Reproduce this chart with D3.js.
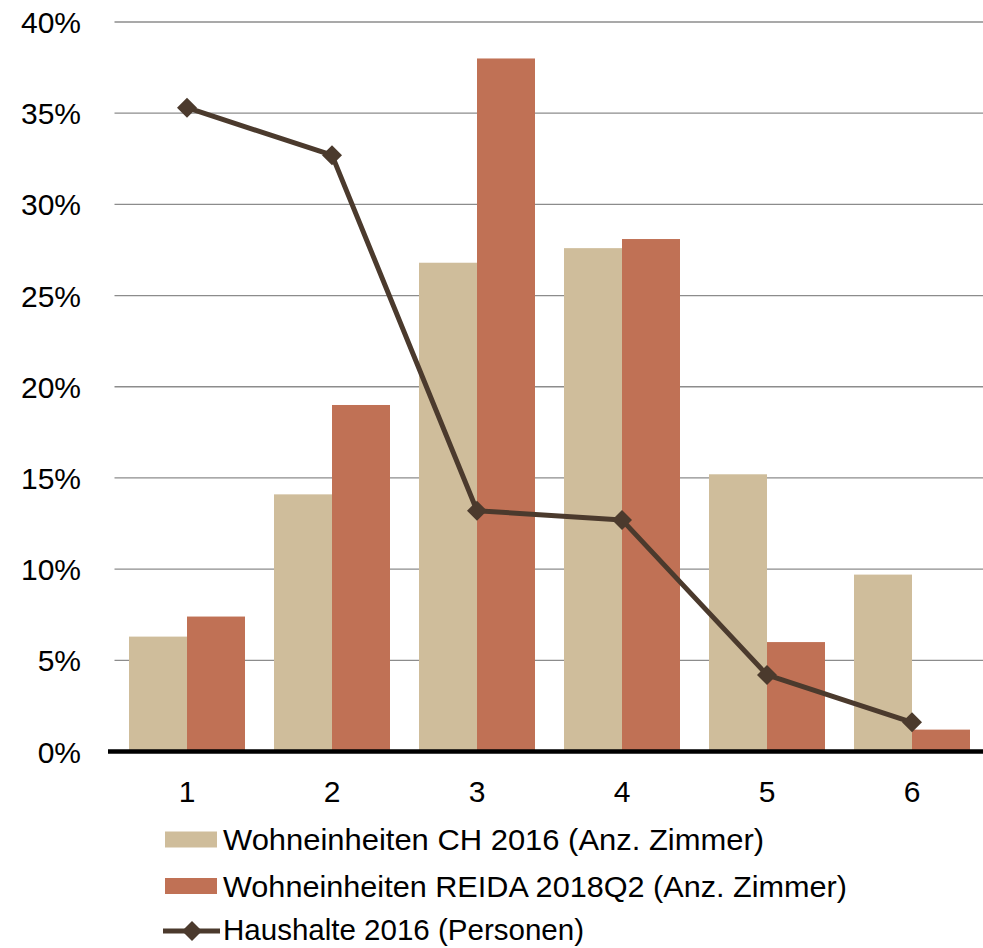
<!DOCTYPE html>
<html>
<head>
<meta charset="utf-8">
<script src="https://cdn.jsdelivr.net/npm/d3@7"></script>
<style>
  html, body { margin: 0; padding: 0; background: #fff; }
  svg { display: block; font-family: "Liberation Sans", Arial, sans-serif; }
</style>
</head>
<body>
<svg id="chart" width="983" height="948"></svg>
<script>
// Categories (number of rooms / persons)
const categories = ["1", "2", "3", "4", "5", "6"];

// Share of dwellings by number of rooms, Switzerland 2016
const wohnCH2016 = [6.3, 14.1, 26.8, 27.6, 15.2, 9.7];
// Share of dwellings by number of rooms, REIDA 2018Q2
const wohnREIDA = [7.4, 19.0, 38.0, 28.1, 6.0, 1.2];
// Share of households by number of persons, 2016
const haushalte2016 = [35.3, 32.7, 13.2, 12.7, 4.2, 1.6];

const yTicks = [0, 5, 10, 15, 20, 25, 30, 35, 40];

const seriesNames = [
  "Wohneinheiten CH 2016 (Anz. Zimmer)",
  "Wohneinheiten REIDA 2018Q2 (Anz. Zimmer)",
  "Haushalte 2016 (Personen)"
];

const colBeige = "#cfbd9b";
const colRed = "#c07155";
const colLine = "#4b3a2d";

const svg = d3.select("#chart");

const plotLeft = 114.5, plotRight = 984.5, plotTop = 22, plotBottom = 751.5;

const x0 = d3.scaleBand().domain(categories).range([plotLeft, plotRight]);
const y = d3.scaleLinear().domain([0, 40]).range([plotBottom, plotTop]);

// horizontal gridlines
svg.append("g")
  .selectAll("line")
  .data(yTicks.filter(d => d > 0))
  .join("line")
  .attr("x1", plotLeft).attr("x2", 983)
  .attr("y1", d => y(d)).attr("y2", d => y(d))
  .attr("stroke", "#8c8c8c").attr("stroke-width", 1.3);

// y axis labels
svg.append("g")
  .selectAll("text")
  .data(yTicks)
  .join("text")
  .attr("x", 81)
  .attr("y", d => y(d) + 11)
  .attr("text-anchor", "end")
  .attr("font-size", 30)
  .attr("fill", "#000")
  .text(d => d + "%");

// bars: two series side by side inside each category band
const groupW = x0.bandwidth() * 0.8;
const inner = d3.scaleBand().domain([0, 1]).range([0, groupW]);

const bars = svg.append("g");
[wohnCH2016, wohnREIDA].forEach((vals, si) => {
  bars.append("g")
    .selectAll("rect")
    .data(vals)
    .join("rect")
    .attr("x", (d, i) => x0(categories[i]) + x0.bandwidth() * 0.1 + inner(si))
    .attr("y", d => y(d))
    .attr("width", inner.bandwidth())
    .attr("height", d => y(0) - y(d))
    .attr("fill", si === 0 ? colBeige : colRed);
});

// x axis baseline
svg.append("line")
  .attr("x1", 108).attr("x2", 983)
  .attr("y1", y(0)).attr("y2", y(0))
  .attr("stroke", "#000").attr("stroke-width", 4.5);

// x axis labels
svg.append("g")
  .selectAll("text")
  .data(categories)
  .join("text")
  .attr("x", d => x0(d) + x0.bandwidth() / 2)
  .attr("y", 802)
  .attr("text-anchor", "middle")
  .attr("font-size", 30)
  .attr("fill", "#000")
  .text(d => d);

// household line with diamond markers
const cx = (d, i) => x0(categories[i]) + x0.bandwidth() / 2;
const line = d3.line().x(cx).y(d => y(d));
svg.append("path")
  .datum(haushalte2016)
  .attr("d", line)
  .attr("fill", "none")
  .attr("stroke", colLine)
  .attr("stroke-width", 5)
  .attr("stroke-linejoin", "round");

const diamond = d3.symbol().type(d3.symbolSquare).size(200);
svg.append("g")
  .selectAll("path")
  .data(haushalte2016)
  .join("path")
  .attr("d", diamond)
  .attr("transform", (d, i) => `translate(${cx(d, i)},${y(d)}) rotate(45)`)
  .attr("fill", colLine);

// legend
const legend = svg.append("g");
const rowBase = [850, 896.5, 940];
const rowLen = [541, 624, 361];
legend.append("rect").attr("x", 165).attr("y", 831.5).attr("width", 52).attr("height", 16).attr("fill", colBeige);
legend.append("rect").attr("x", 165).attr("y", 878).attr("width", 52).attr("height", 16).attr("fill", colRed);
legend.append("line").attr("x1", 163).attr("x2", 220).attr("y1", 931).attr("y2", 931)
  .attr("stroke", colLine).attr("stroke-width", 5);
legend.append("path").attr("d", diamond).attr("transform", "translate(192,931) rotate(45)").attr("fill", colLine);

legend.selectAll("text")
  .data(seriesNames)
  .join("text")
  .attr("x", 223)
  .attr("y", (d, i) => rowBase[i])
  .attr("font-size", 30)
  .attr("fill", "#000")
  .attr("textLength", (d, i) => rowLen[i])
  .attr("lengthAdjust", "spacingAndGlyphs")
  .text(d => d);
</script>
</body>
</html>
